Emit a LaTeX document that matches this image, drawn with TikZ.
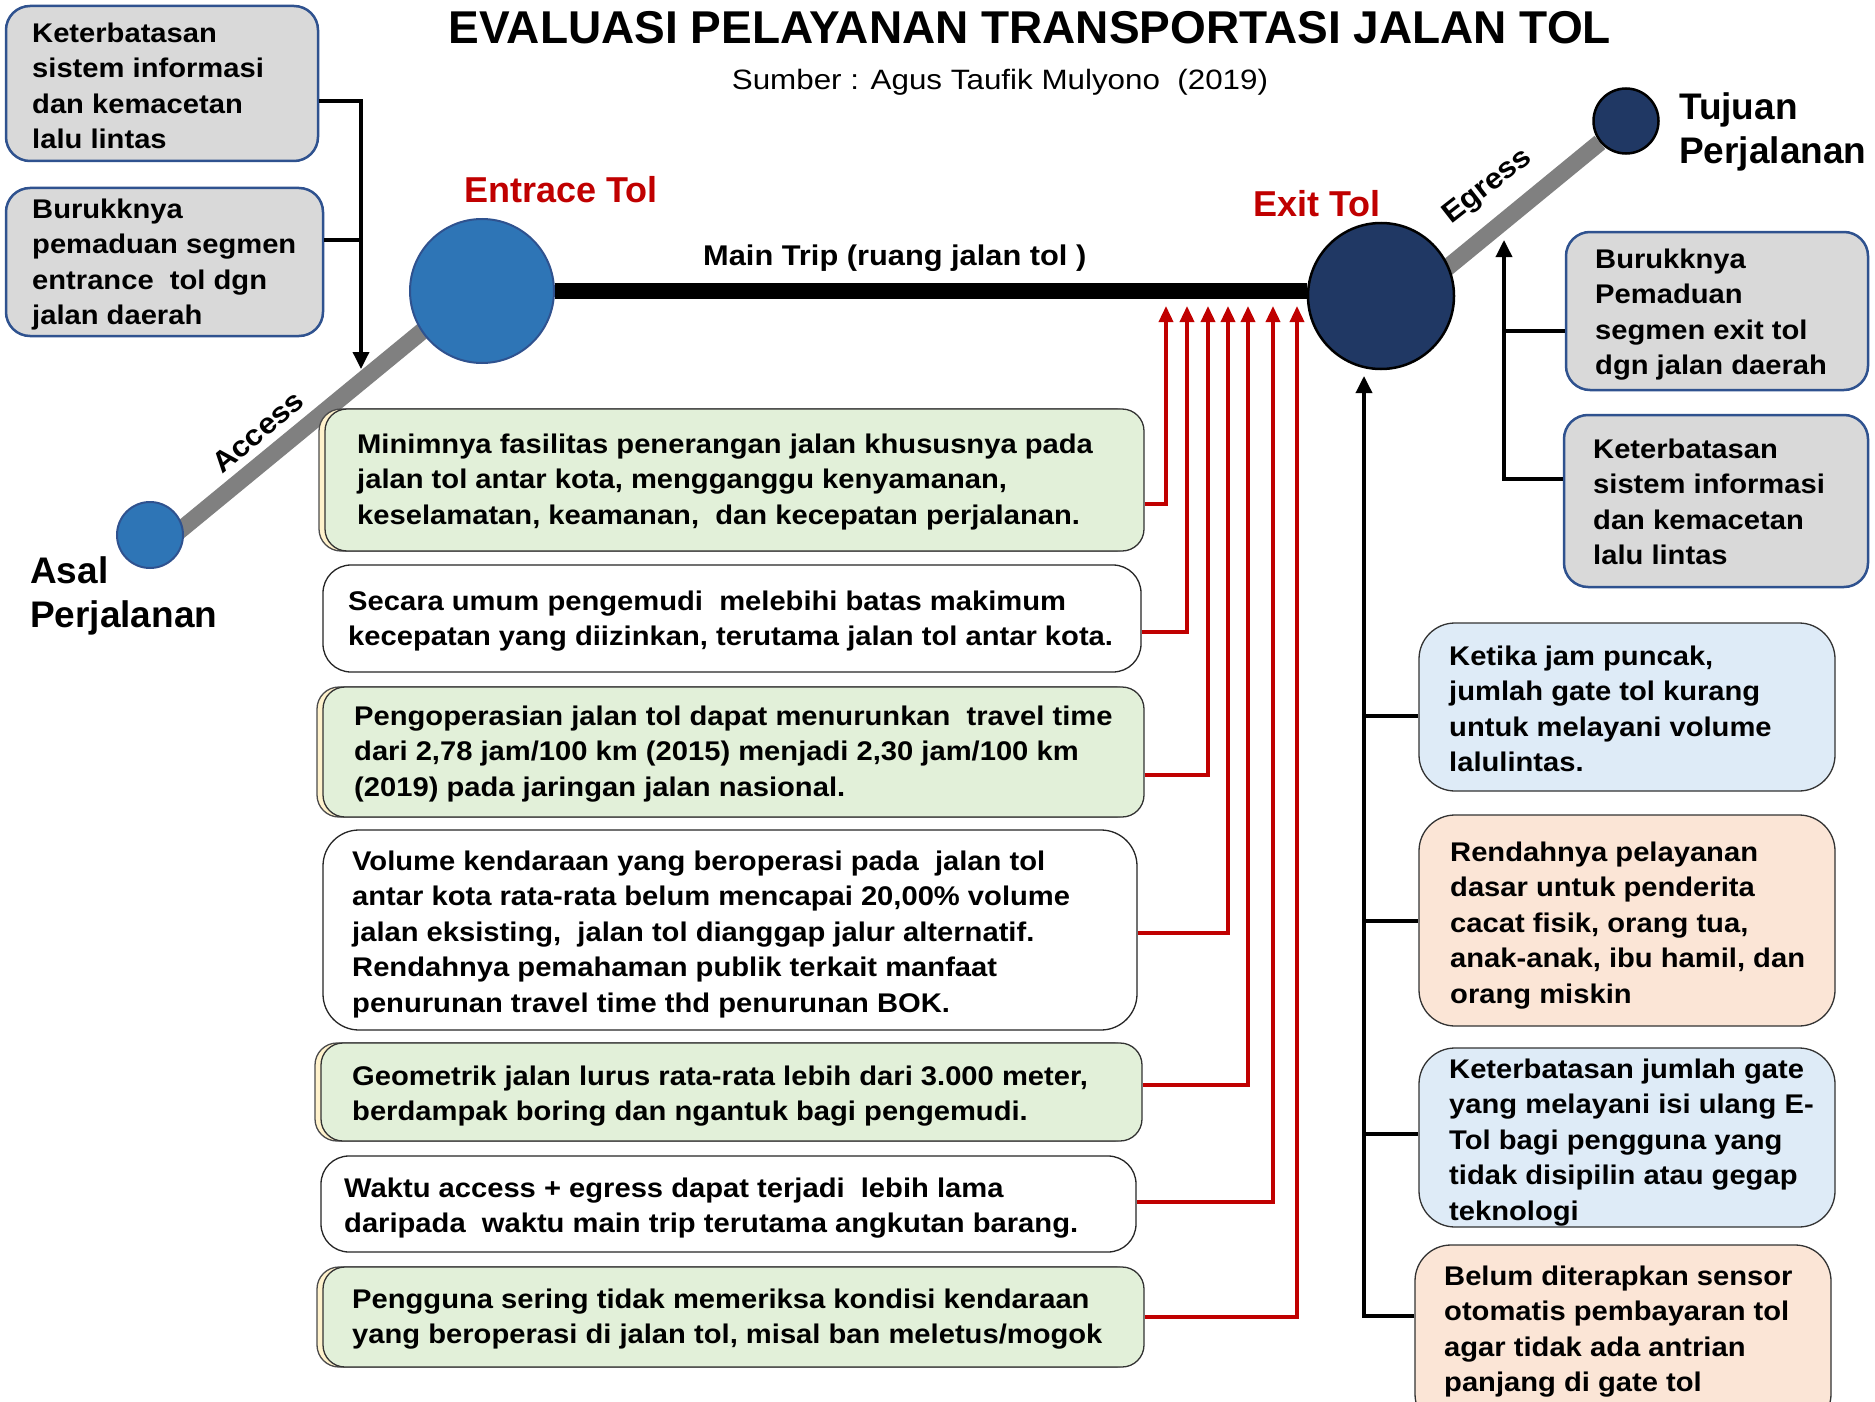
\documentclass[tikz,border=0pt]{standalone}
\usepackage{fontspec}
\setmainfont{Liberation Sans}
\newfontfamily\bxf[FakeStretch=1.08]{Liberation Sans}
\usepackage{graphicx}
\usetikzlibrary{arrows.meta,calc,shadows,backgrounds}
\definecolor{grayfill}{HTML}{D9D9D9}
\definecolor{bluebord}{HTML}{2F528F}
\definecolor{greenfill}{HTML}{E2F0D9}
\definecolor{bluefill}{HTML}{DEEBF7}
\definecolor{peachfill}{HTML}{FBE5D6}
\definecolor{midblue}{HTML}{2E75B6}
\definecolor{navy}{HTML}{203864}
\definecolor{roadgray}{HTML}{808080}
\definecolor{darkred}{HTML}{C00000}
\definecolor{cream}{HTML}{FFF2CC}
\newcommand\Lb{\rule[-10pt]{0pt}{35.5pt}}
\newcommand\Lc{\rule[-12pt]{0pt}{44pt}}
\begin{document}
\begin{tikzpicture}[x=1pt,y=-1pt,
  gbox/.style={draw=bluebord, fill=grayfill, line width=2.5pt, rounded corners=24pt, inner sep=0pt},
  grbox/.style={draw=black!80, fill=greenfill, line width=1.3pt, rounded corners=22pt, inner sep=0pt,
     drop shadow={shadow xshift=-6pt, shadow yshift=0pt, fill=cream, draw=black!70, opacity=1}},
  wbox/.style={draw=black!85, fill=white, line width=1.3pt, rounded corners=28pt, inner sep=0pt},
  bbox/.style={draw=black!80, fill=bluefill, line width=1.3pt, rounded corners=36pt, inner sep=0pt},
  pbox/.style={draw=black!80, fill=peachfill, line width=1.3pt, rounded corners=36pt, inner sep=0pt},
  btxt/.style={anchor=north west, inner sep=0pt, align=left, font=\bxf\bfseries\fontsize{27}{35.5}\selectfont},
  bigl/.style={anchor=north west, inner sep=0pt, align=left, font=\bfseries\fontsize{37}{44}\selectfont},
  redl/.style={anchor=base west, inner sep=0pt, text=darkred, font=\bfseries\fontsize{36}{40}\selectfont},
  circA/.style={circle, fill=midblue, draw=bluebord, line width=2pt, inner sep=0pt},
  circN/.style={circle, fill=navy, draw=black, line width=2.5pt, inner sep=0pt},
  road/.style={draw=roadgray, line width=17pt},
  conn/.style={line width=3.5pt, draw=black},
  conar/.style={conn, -{Triangle[width=16pt,length=17pt]}},
  redln/.style={line width=3.5pt, draw=darkred, -{Triangle[width=14pt,length=16pt]}}
]
\useasboundingbox (0,0) rectangle (1875,1402);

% title
\node[anchor=base, inner sep=0pt] (title) at (1030,44)
  {\bfseries\fontsize{46}{50}\selectfont EVALUASI PELAYANAN TRANSPORTASI JALAN TOL};
\node[anchor=base, inner sep=0pt] (subtitle) at (1000,90)
  {\scalebox{1.12}[1]{\fontsize{28}{32}\selectfont Sumber : Agus Taufik Mulyono\ \ (2019)}};

% circles
\node[circA, minimum size=66] (asal) at (150,535) {};
\node[circA, minimum size=144] (ent) at (482,291) {};
\node[circN, minimum size=146] (exitc) at (1381,296) {};
\node[circN, minimum size=65] (tuj) at (1626,121) {};

\begin{scope}[on background layer]
  \fill[white] (0,0) rectangle (1875,1402);
  \draw[road] ($(asal)+(0,20)$) -- ($(ent)+(0,-9)$);
  \draw[road] ($(exitc)+(0,26)$) -- (tuj);
  \draw[line width=16pt] (ent.east) -- (ent.east -| exitc.west);
\end{scope}

% labels
\node[redl] (entl) at (464,203) {Entrace Tol};
\node[redl] (exitl) at (1253,216) {Exit Tol};
\node[anchor=base west, inner sep=0pt, font=\bxf\bfseries\fontsize{28.5}{30}\selectfont] (mainl) at (703,265) {Main Trip (ruang jalan tol )};
\node[bigl] (tujl) at (1679,119-32) {\Lc Tujuan\\\Lc Perjalanan};
\node[bigl] (asall) at (30,583-32) {\Lc Asal\\\Lc Perjalanan};
\node[rotate=40, inner sep=0pt, font=\bxf\bfseries\fontsize{29}{30}\selectfont] (accl) at (258,432) {Access};
\node[rotate=38, inner sep=0pt, font=\bxf\bfseries\fontsize{29}{30}\selectfont] (egrl) at (1488,187) {Egress};

% top-left gray boxes
\node[gbox, minimum width=312, minimum height=155] (tlA) at (162,83.5) {};
\node[btxt] (tlAt) at (32,42-25.5) {\Lb Keterbatasan\\\Lb sistem informasi\\\Lb dan kemacetan\\\Lb lalu lintas};
\node[gbox, minimum width=317, minimum height=148] (tlB) at (164.5,262) {};
\node[btxt] (tlBt) at (32,218-25.5) {\Lb Burukknya\\\Lb pemaduan segmen\\\Lb entrance\ \ tol dgn\\\Lb jalan daerah};

% top-right gray boxes
\node[gbox, minimum width=302, minimum height=158] (trA) at (1717,311) {};
\node[btxt] (trAt) at (1595,268-25.5) {\Lb Burukknya\\\Lb Pemaduan\\\Lb segmen exit tol\\\Lb dgn jalan daerah};
\node[gbox, minimum width=304, minimum height=172] (trB) at (1716,501) {};
\node[btxt] (trBt) at (1593,458-25.5) {\Lb Keterbatasan\\\Lb sistem informasi\\\Lb dan kemacetan\\\Lb lalu lintas};

% middle boxes
\node[grbox, minimum width=819, minimum height=142] (M1) at (734.5,480) {};
\node[btxt] (M1t) at (357,453-25.5) {\Lb Minimnya fasilitas penerangan jalan khususnya pada\\\Lb jalan tol antar kota, mengganggu kenyamanan,\\\Lb keselamatan, keamanan,\ \ dan kecepatan perjalanan.};
\node[wbox, minimum width=818, minimum height=107] (M2) at (732,618.5) {};
\node[btxt] (M2t) at (348,610-25.5) {\Lb Secara umum pengemudi\ \ melebihi batas makimum\\\Lb kecepatan yang diizinkan, terutama jalan tol antar kota.};
\node[grbox, minimum width=821, minimum height=130] (M3) at (733.5,752) {};
\node[btxt] (M3t) at (354,725-25.5) {\Lb Pengoperasian jalan tol dapat menurunkan\ \ travel time\\\Lb dari 2,78 jam/100 km (2015) menjadi 2,30 jam/100 km\\\Lb (2019) pada jaringan jalan nasional.};
\node[wbox, rounded corners=36pt, minimum width=814, minimum height=200] (M4) at (730,930) {};
\node[btxt] (M4t) at (352,870-25.5) {\Lb Volume kendaraan yang beroperasi pada\ \ jalan tol\\\Lb antar kota rata-rata belum mencapai 20,00\% volume\\\Lb jalan eksisting,\ \ jalan tol dianggap jalur alternatif.\\\Lb Rendahnya pemahaman publik terkait manfaat\\\Lb penurunan travel time thd penurunan BOK.};
\node[grbox, minimum width=821, minimum height=98] (M5) at (731.5,1092) {};
\node[btxt] (M5t) at (352,1085-25.5) {\Lb Geometrik jalan lurus rata-rata lebih dari 3.000 meter,\\\Lb berdampak boring dan ngantuk bagi pengemudi.};
\node[wbox, minimum width=815, minimum height=96] (M6) at (728.5,1204) {};
\node[btxt] (M6t) at (344,1197-25.5) {\Lb Waktu access + egress dapat terjadi\ \ lebih lama\\\Lb daripada\ \ waktu main trip terutama angkutan barang.};
\node[grbox, minimum width=821, minimum height=100] (M7) at (733.5,1317) {};
\node[btxt] (M7t) at (352,1308-25.5) {\Lb Pengguna sering tidak memeriksa kondisi kendaraan\\\Lb yang beroperasi di jalan tol, misal ban meletus/mogok};

% right boxes
\node[bbox, minimum width=416, minimum height=168] (RA) at (1627,707) {};
\node[btxt] (RAt) at (1449,665-25.5) {\Lb Ketika jam puncak,\\\Lb jumlah gate tol kurang\\\Lb untuk melayani volume\\\Lb lalulintas.};
\node[pbox, minimum width=416, minimum height=211] (RB) at (1627,920.5) {};
\node[btxt] (RBt) at (1450,861-25.5) {\Lb Rendahnya pelayanan\\\Lb dasar untuk penderita\\\Lb cacat fisik, orang tua,\\\Lb anak-anak, ibu hamil, dan\\\Lb orang miskin};
\node[bbox, minimum width=416, minimum height=179] (RC) at (1627,1137.5) {};
\node[btxt] (RCt) at (1449,1078-25.5) {\Lb Keterbatasan jumlah gate\\\Lb yang melayani isi ulang E-\\\Lb Tol bagi pengguna yang\\\Lb tidak disipilin atau gegap\\\Lb teknologi};
\node[pbox, minimum width=416, minimum height=185] (RD) at (1623,1337.5) {};
\node[btxt] (RDt) at (1444,1285-25.5) {\Lb Belum diterapkan sensor\\\Lb otomatis pembayaran tol\\\Lb agar tidak ada antrian\\\Lb panjang di gate tol};

% top-left connector
\coordinate (ja) at (361,101);
\coordinate (jb) at (361,240);
\coordinate (at) at (361,369);
\draw[conar] (tlA.east |- ja) -- (ja) -- (at);
\draw[conn] (tlB.east |- jb) -- (jb);

% right gray connector
\coordinate (gt) at (1504,240);
\coordinate (gj) at (1504,331);
\coordinate (gb) at (1504,479);
\draw[conar] (trB.west |- gb) -- (gb) -- (gt);
\draw[conn] (trA.west |- gj) -- (gj);

% exit connector
\coordinate (xt) at (1364,376);
\coordinate (xa) at (1364,716);
\coordinate (xbb) at (1364,921);
\coordinate (xc) at (1364,1134);
\coordinate (xd) at (1364,1316);
\draw[conar] (RD.west |- xd) -- (xd) -- (xt);
\draw[conn] (xa) -- (RA.west |- xa);
\draw[conn] (xbb) -- (RB.west |- xbb);
\draw[conn] (xc) -- (RC.west |- xc);

% red connectors
\foreach \i/\xx/\yy in {1/1166/504, 2/1187/632, 3/1208/775, 4/1228/933, 5/1248/1085, 6/1273/1202, 7/1297/1317}{
  \coordinate (rj\i) at (\xx,\yy);
  \coordinate (rt\i) at (\xx,306);
  \draw[redln] (M\i.east |- rj\i) -- (rj\i) -- (rt\i);
}
\end{tikzpicture}
\end{document}
